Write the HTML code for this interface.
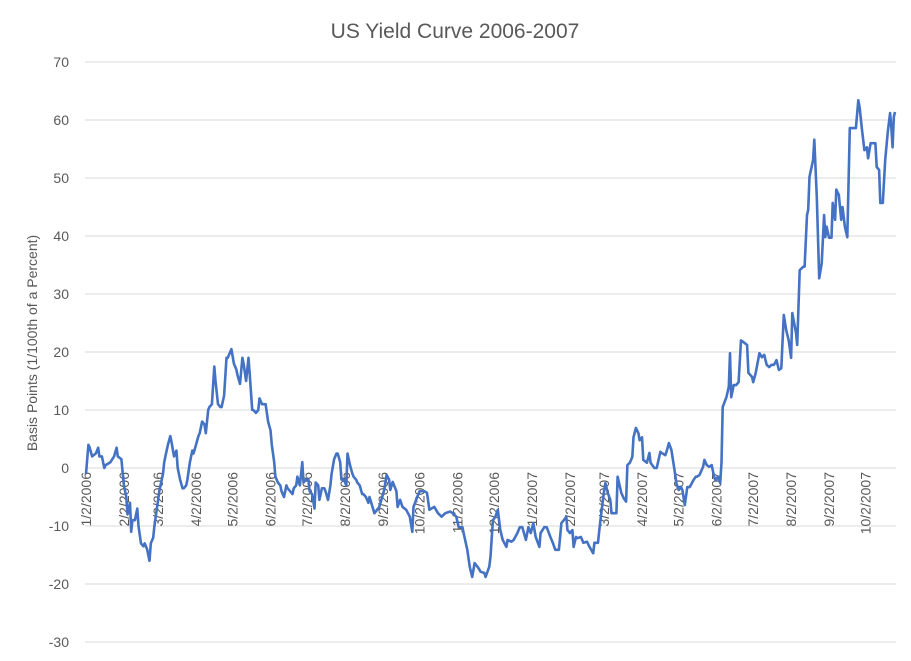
<!DOCTYPE html>
<html><head><meta charset="utf-8"><style>
body{margin:0;background:#fff;}
svg{display:block;font-family:"Liberation Sans",sans-serif;}
</style></head><body>
<svg id="chart" width="911" height="661" viewBox="0 0 911 661">
<rect x="0" y="0" width="911" height="661" fill="#fff"/>
<text x="455" y="38" text-anchor="middle" font-size="21" fill="#595959">US Yield Curve 2006-2007</text>
<text transform="translate(37,343) rotate(-90)" text-anchor="middle" font-size="14" fill="#595959">Basis Points (1/100th of a Percent)</text>
<g id="grid"></g><g id="yticks"></g><g id="xticks"></g>
<path id="line" fill="none" stroke="#4472C4" stroke-width="2.6" stroke-linejoin="round"/>
</svg>
<script>
const days=[0,2,3,5,8,10,11,13,15,16,20,23,25,26,29,31,33,34,36,37,38,40,42,43,45,47,48,50,52,53,55,56,58,60,61,63,64,65,67,69,70,72,74,75,77,79,80,82,83,85,87,88,90,92,93,95,97,98,100,101,103,105,106,108,110,111,113,115,116,118,119,121,123,124,126,128,129,131,133,134,136,137,139,141,142,144,146,147,149,151,152,154,155,157,159,160,162,164,165,167,169,170,172,173,175,177,178,180,182,183,185,187,188,190,191,193,195,196,198,200,201,203,205,206,208,209,211,213,214,216,218,219,221,222,224,226,227,229,231,
232,236,240,244,246,248,249,251,254,255,257,259,262,265,267,268,271,273,277,279,281,285,288,291,294,298,300,303,305,308,309,312,314,316,318,321,323,326,327,330,331,333,335,337,339,341,344,345,348,350,353,355,357,360,362,364,366,368,371,372,375,377,380,382,384,387,389,391,393,394,396,398,399,401,402,405,407,410,412,415,416,419,420,422,424,425,427,429,430,432,434,435,437,438,440,442,443,445,447,448,450,452,453,455,456,459,461,462,465,467,470,471,474,475,477,479,482,483,485,487,488,490,492,494,497,499,
500,502,505,506,508,510,512,514,515,517,519,520,521,524,526,527,528,530,532,534,536,538,541,542,545,546,548,551,553,555,557,559,561,563,565,567,569,571,573,575,577,578,581,582,584,587,588,590,591,592,595,596,598,600,602,604,605,606,608,610,611,613,614,616,618,619,621,623,625,627,630,632,633,635,637,639,640,642,644,646,647,649,650,652,654,656,658,659,660,661,662];
const values=[-1,4,3.5,2,2.5,3.5,2,2,0,0.5,1,2,3.5,2,1.5,-3,-5,-8,-6,-11,-9,-9,-7,-10,-13,-13.5,-13,-14,-16,-13,-12,-10,-7,-4,-3,-1,1,2,4,5.5,4.5,2,3,0,-2,-3.5,-3.5,-3,-2,1,3,2.5,4,5.5,6,8,7.5,6,10,10.5,11,17.5,15,11,10.5,10.5,12.5,19,19,20,20.5,18,17,16,14.5,19,18,15,19,16,10,10,9.5,10,12,11,11,11,8,6.5,4,1,-1.5,-2.5,-3,-4,-5,-3,-3.5,-4,-4.5,-3.5,-3,-1.5,-3,1,-2.5,-2,-2,-4,-4.5,-7,-2.5,-3,-5.5,-3.5,-3.5,-4,-5.5,-3,-1,1.5,2.5,2.5,1,-2,-2,-3,2.5,0.5,-1,-1.5,-2,-2.5,-3,-4.5,-4.5,-5,-6,
-5,-7.8,-6.7,-3.8,-1.2,-2,-3.8,-2.4,-4,-6.7,-5.5,-6.7,-7.2,-8.4,-11,-6.7,-5,-4,-4,-4.3,-7.2,-6.7,-7.8,-8.4,-7.8,-7.5,-7.8,-8.4,-10.2,-10.2,-11.2,-14.1,-17,-18.8,-16.4,-17.2,-17.9,-18.1,-18.8,-17,-15.3,-9,-8.4,-7.2,-10.7,-12.4,-13.6,-12.4,-12.7,-12.4,-11.2,-10.2,-10.2,-12.4,-10.2,-11.2,-9.5,-11.9,-13.6,-11.2,-10.2,-10.2,-11.9,-12.9,-14.1,-14.1,-9.5,-9,-8.4,-10.7,-11.2,-10.7,-13.6,-11.9,-12.1,-11.9,-12.9,-12.7,-13.6,-14.7,-12.9,-12.9,-10.7,-7.2,-3.8,-2.6,-4.3,-5.5,-7.8,-7.8,-7.8,-1.5,-3.3,-4.3,-5.2,-5.8,0.5,0.9,1.9,5.3,6.9,6,4.8,5.3,1.4,0.9,2.6,0.9,0,0,2.8,2.6,2.2,2.8,4.3,3.1,-0.9,-2.6,-3.8,-3.3,-3.8,-6.4,-3.3,-3.3,-2.1,-1.5,
-1.5,-1.2,0.2,1.4,0.5,0.2,0.5,-1.5,-2.1,-1.5,-2.6,0.9,10.5,12.2,14,19.8,12.2,14.3,14.3,14.8,22,21.7,21.2,16.4,15.7,14.8,16.4,19.8,19.1,19.5,17.8,17.4,17.8,17.8,18.6,16.9,17.2,26.4,23.8,22,19,26.7,23.3,21.2,34.1,34.7,34.7,43.6,44.5,50.2,53.1,56.6,46.7,32.7,35.3,43.6,39.8,41.6,39.7,39.7,45.7,42.8,48,47.1,42.8,45,41.6,39.8,58.6,58.6,58.6,63.4,62.2,58.3,54.8,55.3,53.4,56,56,56,51.9,51.4,45.7,45.7,53.1,57.8,61.2,58.8,55.3,60.5,61.4];
const yTicks=[70,60,50,40,30,20,10,0,-10,-20,-30];
const monthLabels=["1/2/2006","2/2/2006","3/2/2006","4/2/2006","5/2/2006","6/2/2006","7/2/2006","8/2/2006","9/2/2006","10/2/2006","11/2/2006","12/2/2006","1/2/2007","2/2/2007","3/2/2007","4/2/2007","5/2/2007","6/2/2007","7/2/2007","8/2/2007","9/2/2007","10/2/2007"];
const monthDays=[0,31,59,90,120,151,181,212,243,273,304,334,365,396,424,455,485,516,546,577,608,638];

const X0=86,X1=895,D0=0,D1=662,YT=62,YB=642,VMAX=70,VMIN=-30;
const xs=d=>X0+(d-D0)*(X1-X0)/(D1-D0);
const ys=v=>YT+(VMAX-v)*(YB-YT)/(VMAX-VMIN);
const NS="http://www.w3.org/2000/svg";
const grid=document.getElementById('grid'),yt=document.getElementById('yticks'),xt=document.getElementById('xticks');
yTicks.forEach(v=>{
  const l=document.createElementNS(NS,'line');
  l.setAttribute('x1',85);l.setAttribute('x2',896);
  l.setAttribute('y1',ys(v));l.setAttribute('y2',ys(v));
  l.setAttribute('stroke','#d9d9d9');l.setAttribute('stroke-width','1');
  
  
  grid.appendChild(l);
  const t=document.createElementNS(NS,'text');
  t.setAttribute('x',69);t.setAttribute('y',ys(v)+5);
  t.setAttribute('text-anchor','end');t.setAttribute('font-size','14');t.setAttribute('fill','#595959');
  t.textContent=v;
  
  
  yt.appendChild(t);
});
monthLabels.forEach((s,i)=>{
  const x=xs(monthDays[i])+5,y=ys(0)+4;
  const t=document.createElementNS(NS,'text');
  t.setAttribute('transform','translate('+x+','+y+') rotate(-90)');
  t.setAttribute('text-anchor','end');t.setAttribute('font-size','14');t.setAttribute('fill','#595959');
  t.textContent=s;
  
  
  xt.appendChild(t);
});
let d='';
days.forEach((dd,i)=>{d+=(i?'L':'M')+xs(dd).toFixed(1)+','+ys(values[i]).toFixed(1);});
document.getElementById('line').setAttribute('d',d);
</script>
</body></html>
